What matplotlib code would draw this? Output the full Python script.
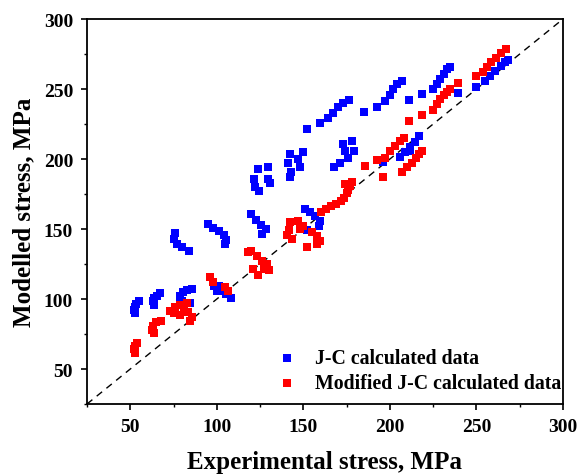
import numpy as np
import matplotlib
matplotlib.use('Agg')
import matplotlib.pyplot as plt
from matplotlib.ticker import MultipleLocator

# J-C calculated data (experimental, modelled)
jc_x = [55, 53.5, 52.5, 52, 52.5,
        67, 65.5, 64, 63, 63.5,
        85.5, 83, 80.5, 78.5, 78.5, 80, 84.5,
        76, 75, 77, 80, 84,
        95, 98, 101.5, 104, 105.5, 104.5,
        98.5, 101.5, 100, 103.5, 105.5, 108,
        120, 122.5, 125.5, 128.5, 126,
        124, 121.5, 122, 124.5, 129.5, 129.5, 130.5,
        142.5, 150, 141, 147, 148, 143, 142.5,
        151, 154, 157, 159.5, 159, 152,
        152, 159.5, 164, 167, 170, 173, 176.5,
        167.5, 171, 176, 174, 179, 173, 178,
        185, 192.5, 197, 200, 202, 204, 207, 211, 218.5,
        225, 227, 229, 231, 233, 235,
        239.5, 250, 255, 258, 261, 264, 266.5, 268.5,
        196, 206, 209, 211.5, 214.5, 217, 211.5]
jc_y = [98.5, 96.5, 94, 92, 90,
        104, 102.5, 101, 98.5, 96,
        107.5, 106.5, 105, 102.5, 100, 98.5, 97.5,
        147, 143, 139.5, 137, 134,
        153.5, 150.5, 148.5, 145.5, 142, 139.5,
        109.5, 109, 106, 105.5, 103.5, 101,
        160.5, 156.5, 153, 150, 146.5,
        193, 186, 180, 177.5, 194.5, 186, 183,
        203.5, 205, 197.5, 200, 194, 190.5, 187,
        164, 162, 159.5, 156, 152, 149,
        221.5, 225.5, 229.5, 233, 237, 240, 242.5,
        194, 197.5, 200.5, 206, 206, 210.5, 213,
        233.5, 237.5, 241.5, 246, 250, 253.5, 256, 242, 246.5,
        250, 253.5, 257, 260.5, 264, 266,
        247.5, 251.5, 256, 259.5, 263, 266.5, 269, 271,
        198, 201.5, 205, 208.5, 212, 216.5, 206]

# Modified J-C calculated data
mjc_x = [54, 52.5, 52, 53,
         67.5, 65, 63, 62.5, 64,
         73, 76, 79, 81, 83.5, 85.5, 84.5, 79, 75, 83,
         96, 98, 105, 106.5,
         120, 123, 126, 129, 130, 124, 121, 127, 118,
         142.5, 147, 141.5, 140.5, 143.5, 148, 150, 152, 154.8, 157.7, 159.7, 157.7,
         160, 163, 166, 169, 171.5, 173.5, 175, 176, 177, 178, 174,
         185.5, 192.5, 196, 197, 200, 203, 206, 208,
         207, 210, 212.5, 215, 217, 218.5,
         211, 218.5, 225, 227, 229, 231, 233, 235, 239.5, 250,
         254, 256, 258.5, 261.5, 264, 267]
mjc_y = [68.5, 66.5, 64, 61.5,
         84.5, 83.5, 81, 78, 76,
         91.5, 94, 95.5, 92.5, 90.5, 87.5, 84.5, 88.5, 90, 97,
         115.5, 112.5, 108.5, 106,
         134.5, 131, 127.5, 125, 120.5, 117, 121.5, 121.5, 133.5,
         155, 156, 149, 145.5, 143, 150, 152.5, 137, 147.6, 145.2, 141.6, 139.3,
         162, 164.5, 166.5, 168, 170, 172.5, 175.5, 178, 180.5, 183.5, 182,
         195, 199, 187, 200.5, 206, 209.5, 213, 215,
         190.5, 194, 197.5, 200.5, 203.5, 206,
         227.5, 231.5, 235, 239, 243, 245.5, 248, 250, 254, 259,
         262.5, 265.5, 269, 272.5, 275.5, 278.5]

plt.rcParams['font.family'] = ['Liberation Serif', 'DejaVu Serif']
plt.rcParams['font.weight'] = 'bold'

fig = plt.figure(figsize=(5.81, 4.77), dpi=100)
ax = fig.add_axes([0.1497, 0.1509, 0.8193, 0.8071])

# 1:1 reference line
ax.plot([25, 300], [25, 300], 'k--', lw=1.0, dashes=(5, 4))

ax.scatter(jc_x, jc_y, s=33, marker='s', c='#0000ff', linewidths=0,
           label='J-C calculated data', zorder=3)
ax.scatter(mjc_x, mjc_y, s=33, marker='s', c='#ff0000', linewidths=0,
           label='Modified J-C calculated data', zorder=3)

ax.set_xlim(25, 300)
ax.set_ylim(25, 300)
ax.xaxis.set_major_locator(MultipleLocator(50))
ax.yaxis.set_major_locator(MultipleLocator(50))
ax.xaxis.set_minor_locator(MultipleLocator(25))
ax.yaxis.set_minor_locator(MultipleLocator(25))
ax.tick_params(which='major', direction='out', length=4, width=1.2, labelsize=14, pad=6)
ax.tick_params(which='minor', direction='out', length=2.5, width=1.0)
for sp in ax.spines.values():
    sp.set_linewidth(1.3)

ax.set_xlabel('Experimental stress, MPa', fontsize=18, fontweight='bold', labelpad=11)
ax.set_ylabel('Modelled stress, MPa', fontsize=18, fontweight='bold', labelpad=6)

ax.legend(loc='upper left', bbox_to_anchor=(0.399, 0.146), frameon=False,
          fontsize=14.3, handlelength=1.0, handletextpad=0.9, labelspacing=0.25,
          borderpad=0, borderaxespad=0)

plt.savefig('out.png', dpi=100)
